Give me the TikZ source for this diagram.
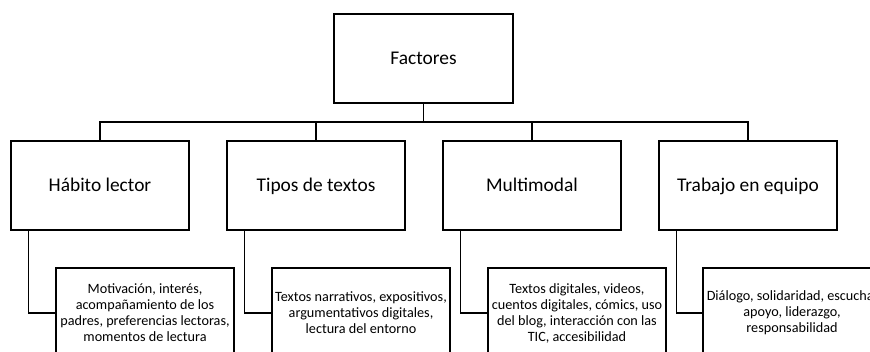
\documentclass[tikz,border=0pt]{standalone}
\usepackage{fontspec}
\setmainfont{Carlito}

\begin{document}
\begin{tikzpicture}[
  x = 1pt, y = -1pt,
  line width = 1.4pt,
  every node/.style = {draw, rectangle, inner sep = 0pt, align = center},
  top box/.style = {minimum width = 179pt, minimum height = 89pt,
                    text height = 17pt, text depth = 4pt,
                    font = \fontsize{19.4}{23}\selectfont},
  factor box/.style = {minimum width = 178pt, minimum height = 89pt,
                       text height = 17pt, text depth = 4pt,
                       font = \fontsize{19.4}{23}\selectfont},
  detail box/.style = {minimum width = 178pt, minimum height = 90pt,
                       font = \fontsize{14.2}{16}\selectfont},
  ]
  \useasboundingbox (0,0) rectangle (870,352);
  \node[top box] (fact) at (423.5,58.5) {Factores};
  \node[factor box] (habito) at (100,185.5) {Hábito lector};
  \node[factor box] (tipos) at (316,185.5) {Tipos de textos};
  \node[factor box] (multi) at (532,185.5) {Multimodal};
  \node[factor box] (trabajo) at (748,185.5) {Trabajo en equipo};
  \node[detail box] (dhabito) at (145,313)
    {Motivación, interés,\\ acompañamiento de los\\ padres, preferencias lectoras,\\ momentos de lectura};
  \node[detail box] (dtipos) at (361,313)
    {Textos narrativos, expositivos,\\ argumentativos digitales,\\ lectura del entorno};
  \node[detail box] (dmulti) at (577,313)
    {Textos digitales, videos,\\ cuentos digitales, cómics, uso\\ del blog, interacción con las\\ TIC, accesibilidad};
  \node[detail box] (dtrabajo) at (792,313)
    {Diálogo, solidaridad, escucha,\\ apoyo, liderazgo,\\ responsabilidad};
  % bus
  \coordinate (bus) at (423.5,122);
  \draw (fact.south) -- (bus);
  \draw (habito.north) |- (bus) -| (trabajo.north);
  \draw (tipos.north) -- (tipos.north |- bus);
  \draw (multi.north) -- (multi.north |- bus);
  % details
  \draw ([xshift=18pt]habito.south west) |- (dhabito.west);
  \draw ([xshift=18pt]tipos.south west) |- (dtipos.west);
  \draw ([xshift=18pt]multi.south west) |- (dmulti.west);
  \draw ([xshift=18pt]trabajo.south west) |- (dtrabajo.west);
\end{tikzpicture}
\end{document}
